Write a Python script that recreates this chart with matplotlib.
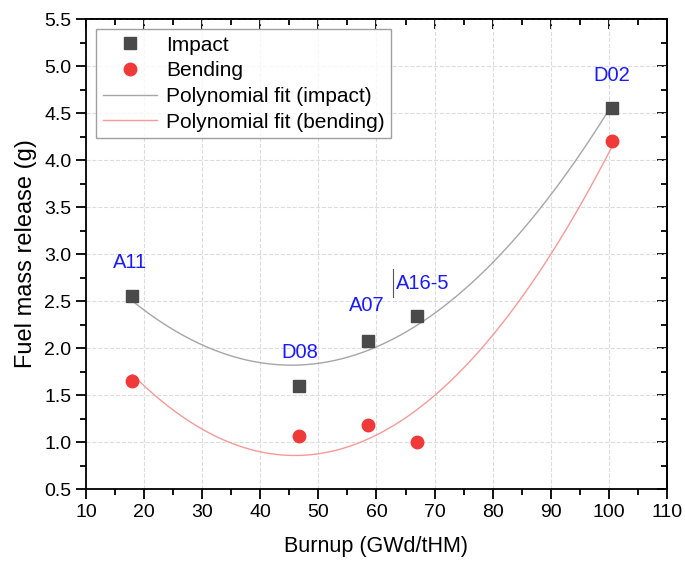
import numpy as np
import matplotlib.pyplot as plt
from matplotlib.ticker import MultipleLocator

plt.rcParams['font.family'] = ['Liberation Sans', 'DejaVu Sans']

burnup = [18.0, 46.7, 58.5, 67.0, 100.5]
impact = [2.55, 1.60, 2.08, 2.34, 4.55]
bending = [1.65, 1.06, 1.18, 1.00, 4.20]
names = ['A11', 'D08', 'A07', 'A16-5', 'D02']
label_x = [17.6, 46.8, 58.4, 68.0, 100.5]
label_y = [2.91, 1.95, 2.45, 2.69, 4.90]

# quadratic fits
p_imp = np.polyfit(burnup, impact, 2)
p_bend = np.polyfit(burnup, bending, 2)
xf = np.linspace(min(burnup), max(burnup), 200)

fig = plt.figure(figsize=(6.85, 5.61), dpi=100)
ax = fig.add_axes([0.1255, 0.1283, 0.8482, 0.8378])

ax.plot(xf, np.polyval(p_imp, xf), color='#a6a6a6', lw=1, label='Polynomial fit (impact)', zorder=2)
ax.plot(xf, np.polyval(p_bend, xf), color='#f59a9a', lw=1, label='Polynomial fit (bending)', zorder=2)
ax.plot(burnup, impact, 's', color='#4a4a4a', ms=8, ls='none', label='Impact', zorder=3)
ax.plot(burnup, bending, 'o', color='#f03a3a', ms=9, ls='none', label='Bending', zorder=3)

for n, lx, ly in zip(names, label_x, label_y):
    ax.text(lx, ly, n, color='#1a1aff', fontsize=14.5, ha='center', va='center')
# small cursor mark left of the A16-5 label
ax.plot([label_x[3] - 5.2] * 2, [label_y[3] - 0.15, label_y[3] + 0.15], color='#555555', lw=0.8)

ax.set_xlim(10, 110)
ax.set_ylim(0.5, 5.5)
ax.xaxis.set_major_locator(MultipleLocator(10))
ax.xaxis.set_minor_locator(MultipleLocator(5))
ax.yaxis.set_major_locator(MultipleLocator(0.5))
ax.yaxis.set_minor_locator(MultipleLocator(0.25))
ax.yaxis.set_major_formatter(plt.FormatStrFormatter('%.1f'))
ax.grid(True, which='major', ls='--', color='#dcdcdc', lw=0.8)
ax.set_axisbelow(True)

ax.tick_params(which='both', direction='out', top=False, right=False, labelsize=14, width=1.3)
ax.tick_params(which='major', length=7)
ax.tick_params(which='minor', length=4)
sec_x = ax.secondary_xaxis('top')
sec_x.xaxis.set_major_locator(MultipleLocator(10))
sec_x.xaxis.set_minor_locator(MultipleLocator(5))
sec_x.tick_params(which='both', direction='in', labeltop=False, width=1.3)
sec_x.tick_params(which='major', length=7)
sec_x.tick_params(which='minor', length=4)
sec_y = ax.secondary_yaxis('right')
sec_y.yaxis.set_major_locator(MultipleLocator(0.5))
sec_y.yaxis.set_minor_locator(MultipleLocator(0.25))
sec_y.tick_params(which='both', direction='in', labelright=False, width=1.3)
sec_y.tick_params(which='major', length=7)
sec_y.tick_params(which='minor', length=4)
for s in list(ax.spines.values()) + [sec_x.spines['top'], sec_y.spines['right']]:
    s.set_linewidth(1.3)

ax.set_xlabel('Burnup (GWd/tHM)', fontsize=15.5, labelpad=11)
ax.set_ylabel('Fuel mass release (g)', fontsize=17, labelpad=5)

h, l = ax.get_legend_handles_labels()
order = [2, 3, 0, 1]
leg = ax.legend([h[i] for i in order], [l[i] for i in order], loc='upper left', fontsize=15,
                fancybox=False, edgecolor='#888888', borderaxespad=0.5, handlelength=2.6,
                labelspacing=0.32, borderpad=0.3, handletextpad=0.45)
leg.get_frame().set_linewidth(1.0)

fig.savefig('out.png', dpi=100)
